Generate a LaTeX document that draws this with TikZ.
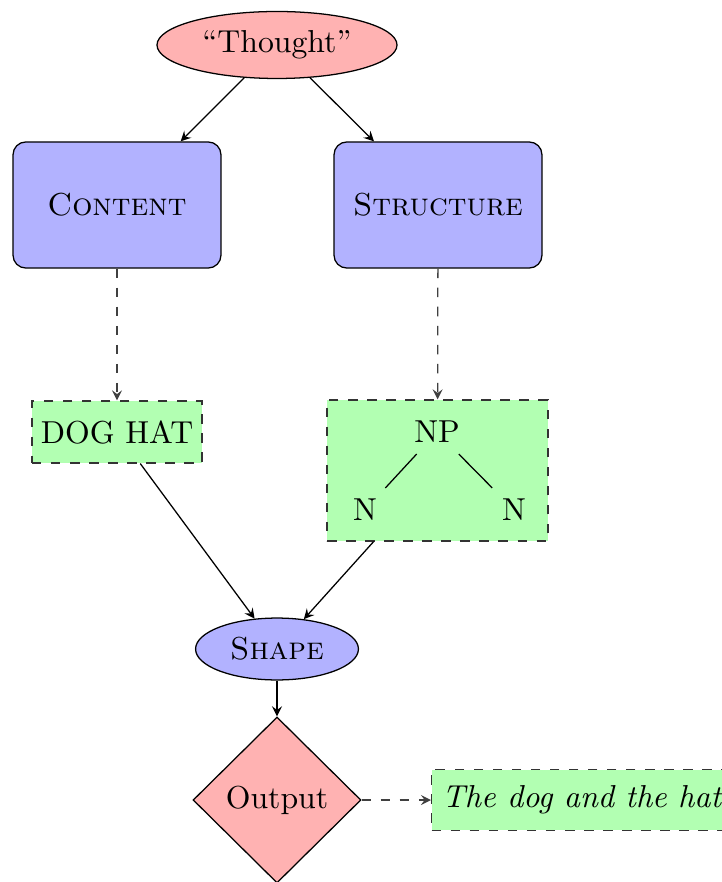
\documentclass[tikz,border=0pt]{standalone}
\usetikzlibrary{shapes.geometric,arrows}
\begin{document}
\begin{tikzpicture}[x=0.315pt,y=-0.315pt,>=stealth,
  redell/.style={ellipse,draw,fill=red!30,inner sep=0pt},
  blueell/.style={ellipse,draw,fill=blue!30,inner sep=0pt},
  bluebox/.style={rectangle,rounded corners=4pt,draw,fill=blue!30,inner sep=0pt},
  greenbox/.style={rectangle,draw=black!80,dashed,fill=green!30,inner sep=0pt},
  reddiam/.style={diamond,draw,fill=red!30,inner sep=0pt},
  plain/.style={inner sep=3.33pt},
  arr/.style={->},
  darr/.style={->,dashed,draw=black!75}]
\useasboundingbox (0,0) rectangle (721,882);
\node[redell,minimum width=75.6pt,minimum height=21.1pt] (thought) at (277,45) {``Thought''};
\node[bluebox,minimum width=65.5pt,minimum height=39.7pt] (content) at (117,205) {\textsc{Content}};
\node[bluebox,minimum width=65.5pt,minimum height=39.7pt] (structure) at (438,205) {\textsc{Structure}};
\node[greenbox,minimum width=53.6pt,minimum height=19.5pt] (doghat) at (117,432) {DOG HAT};
\node[greenbox,minimum width=69.6pt,minimum height=44.4pt] (npbox) at (437.5,470.5) {};
\node[plain] (np) at (437,432) {NP};
\node[plain] (nl) at (365,510) {N};
\node[plain] (nr) at (514,510) {N};
\node[blueell,minimum width=51.3pt,minimum height=19.5pt] (shape) at (277,649) {\textsc{Shape}};
\node[reddiam,minimum width=52.9pt,minimum height=52.3pt] (output) at (277,800) {Output};
\node[greenbox,minimum width=94.5pt,minimum height=19.2pt,anchor=west] (text) at (431,800) {\itshape The dog and the hat};
\draw[arr] (thought) -- (content);
\draw[arr] (thought) -- (structure);
\draw[darr] (content) -- (doghat);
\draw[darr] (structure) -- (npbox);
\draw (np) -- (nl);
\draw (np) -- (nr);
\draw[arr] (doghat) -- (shape);
\draw[arr] (npbox) -- (shape);
\draw[arr] (shape) -- (output);
\draw[darr] (output) -- (text);
\end{tikzpicture}
\end{document}
